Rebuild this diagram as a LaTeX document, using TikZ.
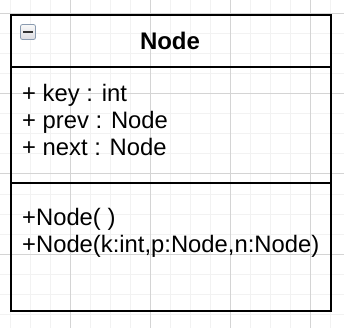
\documentclass[tikz,border=0pt]{standalone}
\usepackage{fontspec}
\setmainfont{Liberation Sans}
\usetikzlibrary{positioning}
\definecolor{gridminor}{HTML}{F2F2F2}
\definecolor{gridmajor}{HTML}{D4D4D4}
\definecolor{foldedge}{HTML}{8A9BB0}
\tikzset{
    % background paper grid
    minorgrid/.style={draw=gridminor, line width=1pt},
    majorgrid/.style={draw=gridmajor, line width=1pt},
    % class outline and compartment separators
    classbox/.style={draw, line width=2pt, minimum width=320pt, minimum height=296pt, inner sep=0pt},
    sepline/.style={line width=2pt},
    % class name and member lines
    classname/.style={font=\bfseries\fontsize{24}{28}\selectfont, inner sep=0pt},
    member/.style={font=\fontsize{23.8}{28}\selectfont, inner sep=0pt, anchor=base west},
    % small collapse button in the header
    foldbtn/.style={draw=foldedge, line width=0.8pt, rounded corners=2pt, minimum size=15pt,
        inner sep=0pt, top color=gray!5, bottom color=blue!8!gray!25},
}

\begin{document}
\begin{tikzpicture}[x=1pt, y=-1pt]
    \useasboundingbox (0,0) rectangle (344,328);

    % --- grid ---
    \foreach \x in {10,30,...,330} \draw[minorgrid] (\x,0) -- (\x,328);
    \foreach \y in {14,34,...,328} \draw[minorgrid] (0,\y) -- (344,\y);
    \foreach \x in {70,150,230,310} \draw[majorgrid] (\x,0) -- (\x,328);
    \foreach \y in {14,94,174,254} \draw[majorgrid] (0,\y) -- (344,\y);

    % --- class box ---
    \node[classbox] (cls) at (171,163) {};
    \coordinate (hdr) at (0,67);
    \coordinate (mid) at (0,183);
    \draw[sepline] (cls.west |- hdr) -- (cls.east |- hdr);
    \draw[sepline] (cls.west |- mid) -- (cls.east |- mid);

    % header: collapse button and name
    \node[foldbtn] (fold) at (28,32) {};
    \draw[line width=2.6pt, black!80] ([xshift=-5pt]fold.center) -- ([xshift=5pt]fold.center);
    \node[classname, anchor=base] (name) at (170,50) {Node};

    % attributes
    \node[member] (key)  at (22,101.5) {+ key : int};
    \node[member] (prev) at (22,129)   {+ prev : Node};
    \node[member] (next) at (22,156)   {+ next : Node};

    % operations
    \node[member] (ctor)  at (22,225.5) {+Node( )};
    \node[member] (ctor2) at (22,252.5) {+Node(k:int,p:Node,n:Node)};

\end{tikzpicture}
\end{document}
